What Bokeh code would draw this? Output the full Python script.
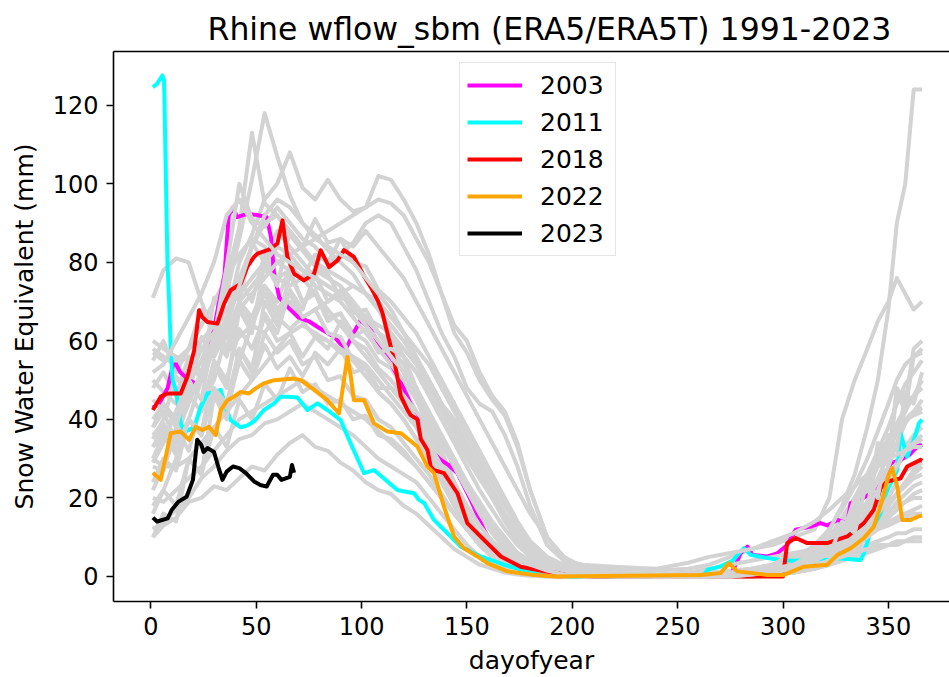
from bokeh.plotting import figure
from bokeh.models import Range1d, LinearAxis, Legend, LegendItem, FixedTicker
from bokeh.embed import file_html
from bokeh.resources import INLINE

# ---------------------------------------------------------------------------
# Snow water equivalent (mm) per day of year, Rhine basin, wflow_sbm (ERA5/ERA5T)
# ---------------------------------------------------------------------------

# Common sampling days for the background years
DOY_GRID = [1, 6, 12, 18, 24, 30, 36, 42, 48, 54, 60, 66, 72, 78, 84, 90, 96, 102,
            108, 114, 120, 126, 132, 138, 144, 150, 156, 162, 168, 174, 180, 188,
            196, 205, 220, 240, 255, 265, 275, 285, 295, 305, 315, 322, 328, 334,
            340, 345, 350, 354, 358, 362, 366]

swe_1991 = [38, 44, 40, 55, 50, 71, 64, 76, 70, 82, 76, 78, 70, 73, 66, 67, 62, 60, 55, 53, 48, 42, 36, 30, 24, 18, 13, 9, 6, 4, 2, 1, 0.5, 0, 0, 0, 0, 0, 0, 0, 1, 2, 4, 6, 9, 14, 19, 25, 31, 37, 42, 46, 50]
swe_1992 = [50, 47, 44, 49, 55, 63, 72, 86, 101, 118, 107, 97, 90, 87, 83, 80, 77, 72, 68, 62, 56, 48, 40, 32, 24, 16, 10, 6, 3, 2, 1, 0.5, 0.2, 0, 0, 0, 0, 0, 0, 0.5, 1, 2, 4, 6, 7, 9, 11, 13, 15, 17, 19, 21, 22]
swe_1993 = [22, 28, 36, 44, 52, 58, 66, 80, 87, 96, 100, 108, 99, 96, 101, 96, 93, 94, 102, 101, 96, 90, 82, 72, 62, 57, 50, 45, 41, 33, 22, 10, 5, 2.5, 2, 1.5, 2, 3, 5, 7, 8, 10, 12, 20, 40, 50, 58, 65, 70, 76, 72, 68, 70]
swe_1994 = [71, 78, 81, 80, 70, 62, 57, 61, 64, 62, 67, 70, 65, 61, 60, 57, 55, 51, 47, 44, 40, 35, 30, 24, 18, 12, 8, 5, 3, 2, 1, 0.5, 0.2, 0, 0, 0, 0, 0, 0.5, 1, 2, 4, 6, 9, 12, 15, 19, 22, 26, 28, 31, 33, 35]
swe_1995 = [35, 40, 51, 46, 61, 56, 76, 89, 113, 95, 92, 87, 83, 79, 77, 71, 70, 65, 62, 57, 52, 45, 38, 30, 22, 15, 10, 6, 4, 2, 1, 0.5, 0, 0, 0, 0, 0, 0, 0, 0, 1, 3, 6, 10, 15, 20, 26, 32, 38, 44, 49, 52, 55]
swe_1996 = [55, 60, 52, 58, 68, 62, 75, 70, 85, 80, 88, 84, 80, 76, 74, 72, 69, 66, 62, 58, 54, 48, 42, 36, 30, 24, 18, 13, 9, 6, 4, 2, 1, 0.5, 0, 0, 0, 0, 0, 1, 2, 3, 4, 5, 6, 7, 8, 9, 10, 11, 11, 12, 12]
swe_1997 = [12, 14, 17, 20, 25, 28, 32, 35, 36, 39, 40, 42, 44, 42, 40, 38, 36, 33, 30, 28, 26, 24, 20, 16, 12, 8, 5, 3, 2, 1, 0.5, 0, 0, 0, 0, 0, 0, 0, 0, 0, 0.5, 1, 2, 4, 6, 9, 12, 15, 18, 21, 24, 26, 28]
swe_1998 = [28, 27, 38, 32, 44, 50, 62, 55, 64, 72, 66, 63, 66, 68, 70, 72, 74, 72, 70, 66, 62, 58, 54, 48, 42, 36, 30, 24, 18, 13, 9, 5, 3, 1.5, 0.5, 0, 0, 0, 0, 0, 0.5, 1, 2, 3, 4, 5, 6, 7, 8, 8, 9, 9, 9]
swe_1999 = [10, 13, 15, 19, 20, 23, 22, 25, 28, 27, 31, 34, 36, 33, 32, 29, 27, 24, 22, 21, 18, 16, 13, 10, 7, 5, 3, 2, 1, 0.5, 0.2, 0, 0, 0, 0, 0, 0, 0, 0, 0, 1, 2, 4, 7, 11, 16, 22, 28, 34, 39, 43, 46, 48]
swe_2000 = [48, 52, 46, 56, 52, 63, 58, 70, 66, 74, 70, 79, 76, 82, 80, 86, 84, 88, 84, 80, 76, 70, 64, 58, 52, 46, 40, 34, 28, 22, 16, 10, 5, 2, 1, 0.5, 0.5, 1, 1.5, 2, 3, 5, 7, 9, 11, 13, 15, 16, 17, 18, 19, 20, 20]
swe_2001 = [20, 19, 22, 25, 28, 32, 36, 40, 42, 44, 46, 48, 50, 48, 46, 44, 42, 40, 37, 34, 31, 28, 24, 20, 16, 12, 9, 6, 4, 3, 2, 1, 0.5, 0, 0, 0, 0, 0, 0, 1, 2, 4, 8, 12, 17, 23, 30, 37, 44, 50, 54, 56, 58]
swe_2002 = [58, 56, 54, 58, 64, 70, 76, 82, 86, 84, 80, 78, 76, 72, 68, 64, 60, 56, 52, 48, 44, 38, 32, 26, 20, 14, 9, 6, 4, 2, 1, 0.5, 0, 0, 0, 0, 0, 0, 0, 0, 1, 3, 6, 10, 14, 20, 26, 31, 35, 38, 40, 42, 43]
swe_2004 = [33, 38, 34, 46, 42, 55, 50, 63, 58, 66, 60, 62, 56, 61, 58, 65, 60, 58, 53, 50, 46, 40, 34, 28, 22, 16, 11, 7, 4, 2, 1, 0.5, 0, 0, 0, 0, 0, 0, 0, 0, 0.5, 1, 3, 5, 8, 12, 17, 22, 28, 34, 39, 42, 45]
swe_2005 = [45, 42, 40, 45, 52, 61, 79, 100, 91, 89, 94, 90, 86, 84, 80, 82, 85, 90, 92, 90, 84, 78, 70, 62, 56, 48, 44, 42, 36, 28, 18, 8, 4, 2, 1, 0.5, 1, 2, 3, 4, 5, 6, 7, 8, 9, 10, 11, 12, 13, 14, 15, 16, 16]
swe_2006 = [16, 22, 18, 30, 26, 38, 33, 45, 40, 49, 45, 53, 47, 49, 44, 45, 40, 41, 36, 35, 32, 28, 24, 20, 16, 12, 9, 6, 4, 2, 1, 0.5, 0, 0, 0, 0, 0, 0, 0, 0, 1, 2, 4, 6, 9, 12, 16, 20, 25, 29, 33, 36, 38]
swe_2007 = [38, 42, 34, 40, 36, 47, 42, 55, 50, 62, 57, 60, 54, 56, 50, 51, 46, 45, 40, 38, 34, 30, 26, 21, 16, 12, 8, 5, 3, 2, 1, 0.5, 0, 0, 0, 0, 0, 0, 0, 0, 0.5, 1, 2, 3, 5, 8, 11, 14, 18, 21, 24, 27, 30]
swe_2008 = [30, 28, 28, 30, 34, 38, 42, 46, 50, 54, 58, 62, 64, 62, 60, 58, 56, 54, 50, 46, 42, 38, 33, 28, 23, 18, 13, 9, 6, 4, 2, 1, 0.5, 0, 0, 0, 0, 0, 0, 0, 0.5, 1, 2, 3, 5, 7, 10, 13, 16, 19, 21, 23, 24]
swe_2009 = [24, 30, 27, 40, 36, 54, 48, 68, 62, 80, 74, 88, 84, 91, 85, 86, 80, 79, 73, 70, 66, 62, 56, 50, 44, 38, 32, 26, 20, 14, 9, 5, 2, 1, 0.5, 0, 0, 0, 0, 0, 0.5, 1, 3, 8, 6, 18, 15, 32, 28, 47, 42, 56, 57]
swe_2010 = [57, 55, 55, 58, 60, 64, 68, 72, 76, 80, 84, 82, 78, 74, 72, 70, 66, 62, 58, 54, 50, 45, 40, 34, 28, 22, 16, 11, 7, 4, 2, 1, 0.5, 0, 0, 0, 0, 0, 0, 1, 2, 4, 8, 12, 18, 26, 38, 50, 68, 90, 100, 124, 124]
swe_2012 = [40, 44, 38, 50, 45, 62, 56, 70, 64, 74, 68, 72, 66, 68, 62, 61, 55, 53, 47, 44, 40, 35, 30, 25, 20, 15, 11, 8, 5, 3, 2, 1, 0.5, 0, 0, 0, 0, 0, 1, 2, 3, 6, 5, 12, 10, 20, 17, 34, 30, 48, 44, 58, 60]
swe_2013 = [60, 58, 56, 55, 58, 62, 64, 68, 72, 76, 80, 82, 84, 86, 88, 90, 92, 94, 96, 95, 92, 86, 80, 72, 64, 60, 52, 46, 42, 34, 22, 10, 4, 3, 2.5, 2, 3.5, 5, 6, 7, 9, 11, 14, 17, 20, 23, 26, 28, 30, 31, 32, 33, 33]
swe_2014 = [33, 36, 31, 40, 36, 47, 43, 55, 50, 59, 53, 56, 51, 57, 54, 58, 52, 53, 48, 48, 46, 42, 38, 34, 29, 24, 19, 14, 10, 6, 4, 2, 1, 0.5, 0, 0, 0, 0, 0, 0, 0.5, 1, 2, 4, 6, 8, 10, 12, 14, 15, 16, 17, 18]
swe_2015 = [18, 22, 30, 40, 50, 58, 66, 76, 84, 90, 92, 88, 84, 80, 78, 76, 74, 72, 68, 64, 60, 55, 50, 44, 38, 32, 26, 20, 15, 10, 6, 3, 1.5, 0.5, 0, 0, 0, 0, 0, 0.5, 1, 2, 4, 6, 8, 11, 15, 19, 24, 28, 32, 34, 36]
swe_2016 = [36, 39, 32, 40, 37, 48, 44, 58, 53, 67, 62, 73, 68, 77, 70, 73, 67, 68, 62, 60, 56, 52, 46, 40, 34, 28, 22, 17, 12, 8, 5, 3, 1.5, 0.5, 0, 0, 0, 0, 0, 0, 0.5, 1, 2, 4, 6, 9, 12, 16, 20, 24, 27, 28, 29]
swe_2017 = [29, 34, 42, 50, 58, 56, 62, 70, 74, 78, 76, 74, 76, 78, 76, 74, 70, 66, 64, 62, 58, 54, 48, 42, 36, 30, 25, 20, 16, 12, 8, 4, 2, 1, 0.5, 0, 0, 0, 0, 0.5, 1, 2, 5, 8, 12, 18, 24, 30, 35, 38, 40, 41, 42]
swe_2019 = [30, 36, 42, 46, 50, 58, 64, 74, 84, 92, 96, 94, 90, 86, 84, 82, 80, 76, 72, 68, 62, 56, 50, 44, 38, 32, 26, 20, 14, 9, 6, 3, 1.5, 0.5, 0, 0, 0, 0, 0.5, 1, 2, 3, 6, 5, 14, 11, 25, 20, 36, 32, 47, 44, 52]
swe_2020 = [52, 54, 60, 66, 72, 80, 92, 96, 90, 86, 82, 80, 78, 76, 74, 72, 68, 64, 60, 56, 52, 46, 40, 34, 28, 22, 17, 12, 8, 5, 3, 1.5, 0.5, 0, 0, 0, 0, 0, 0, 0.5, 1, 2, 3, 4, 5, 6, 7, 8, 8, 9, 9, 10, 10]
swe_2021 = [10, 16, 14, 30, 26, 46, 40, 58, 52, 70, 64, 77, 70, 72, 65, 67, 61, 63, 57, 58, 56, 52, 48, 44, 40, 34, 28, 22, 16, 11, 7, 4, 2, 1, 0.5, 0, 0, 0, 0, 0.5, 1, 2, 4, 6, 8, 10, 13, 16, 19, 21, 23, 25, 26]

# Highlighted years (own day sampling)
doy_2003 = [1, 4, 8, 11, 14, 18, 22, 26, 28, 31, 35, 37, 39, 41, 46, 51, 55, 57, 58.5, 61, 65, 70, 75, 79, 87, 92.5, 95.7, 99.6, 104.4, 109.1, 113.9, 118.6, 123.3, 126.5, 129.7, 133, 137.6, 141, 145.5, 151.8, 158.1, 164.5, 170.8, 178, 186, 195, 275, 279.9, 283.1, 285.5, 292.6, 297.3, 302, 306, 313.1, 317.8, 321, 325.8, 330.5, 332.1, 338, 344.7, 351, 355.8, 360, 363.7, 366]
swe_2003 = [43, 44, 48, 55, 52, 50, 49, 52, 57, 66, 77, 92, 94, 91.5, 92.4, 92, 91.5, 86.5, 77, 71, 68.6, 66, 65, 63.6, 61, 57.8, 61.5, 65.3, 62.7, 58.5, 54.3, 49.5, 44, 40, 34, 32, 29.7, 28.5, 26.3, 19.5, 11.9, 5.9, 3.4, 1.5, 0.5, 0, 0, 5.9, 7.6, 5.5, 5.1, 5.9, 8, 11.9, 12.7, 13.6, 13, 14.4, 13.6, 18.7, 20, 22, 28.8, 29.7, 31, 33.1, 33.5]

doy_2011 = [1, 3, 5.5, 6.3, 7.9, 8.7, 9.5, 10.3, 11.9, 14.2, 16, 18.2, 20.6, 23.7, 26.9, 30, 33.2, 35.6, 37.9, 42.7, 46, 49, 53.7, 58.5, 61.7, 65, 69.6, 74.3, 79.1, 83.8, 90.1, 94.1, 101.2, 105.9, 112.3, 117, 121, 124.9, 127.3, 129.7, 134.4, 139.1, 147.1, 156.5, 167.6, 178.7, 190, 200, 262, 264.1, 270, 276, 281.5, 284.6, 292.6, 298.9, 305, 313.1, 324.1, 336.8, 338.4, 341.5, 346.3, 349.5, 354.2, 355.8, 358.9, 362.1, 364.5, 366]
swe_2011 = [124.6, 125.5, 127.6, 126.3, 80, 70, 57.6, 50, 47.5, 39, 37, 37.3, 38.1, 43.2, 46.6, 47, 47.5, 43.2, 39.8, 38, 38.5, 39.5, 42.4, 44.1, 45.8, 45.8, 45.6, 42.4, 44.1, 42.4, 39.8, 34.8, 26.3, 27.1, 24.2, 22, 21.6, 21.2, 19.5, 18.7, 14.4, 11.9, 7.6, 5.1, 3, 1.3, 0.3, 0, 0, 1.7, 2.5, 4, 7.2, 5.5, 4.7, 4.2, 4, 4.2, 4.7, 4.2, 5.9, 11.4, 16.1, 22, 27.1, 36.5, 30.5, 34.8, 39, 40]

doy_2018 = [1, 4.7, 7.9, 11.1, 14.2, 17.4, 20.6, 22.9, 24.5, 26.9, 31.6, 34.8, 37.9, 42.7, 45.9, 49, 50.6, 55.4, 56.9, 60.1, 62.5, 64.8, 68, 72.7, 77.5, 80.6, 84.6, 88.6, 91.7, 96.4, 101.2, 104.4, 107.6, 110, 112.3, 115.5, 118.6, 121.8, 123.3, 126.5, 128.1, 131.3, 132.8, 134.4, 139.1, 145.5, 150.2, 158.1, 166.1, 175.5, 186.6, 200.8, 210, 300, 302, 306, 311.5, 321, 330.5, 338.4, 343.1, 346.3, 349.5, 355.8, 358.9, 365.3, 366]
swe_2018 = [42.4, 45.8, 46.6, 46.6, 46.6, 50.9, 57.6, 67.8, 66, 64.8, 64.4, 69.5, 72.9, 74.6, 79, 81.4, 82.2, 83.1, 83.5, 84.8, 90.7, 81.4, 77.1, 75.4, 77.1, 83.1, 78.8, 80.5, 83.1, 81.4, 76.5, 73.7, 70.4, 67, 61.9, 55.1, 46, 42.4, 41.1, 40, 35, 32.2, 28, 27.1, 26.3, 21.2, 13.6, 9.3, 5.1, 2.5, 1.3, 0.4, 0, 0, 8.5, 9.8, 8.5, 8.5, 10.2, 13.6, 17, 22.5, 24.2, 25, 28, 29.7, 29.5]

doy_2022 = [1, 4.7, 9.5, 14.2, 18.2, 21.3, 24.5, 27.7, 30.8, 33.2, 36.4, 39.5, 42.7, 46.6, 49.8, 53.7, 58.5, 68, 71.2, 77.5, 83.8, 89.3, 93.3, 94.9, 96.4, 101.2, 105.9, 112.3, 118.6, 126.5, 131.3, 134.4, 139.1, 143.9, 148.6, 155, 159.7, 169.2, 181.8, 192, 261, 270.4, 274.3, 278.3, 292.6, 300.4, 309.9, 321, 325.8, 332.1, 338.4, 343.1, 347.1, 350.2, 351.8, 354.2, 356.6, 360.5, 364.3, 366]
swe_2022 = [26.4, 24.6, 36.5, 36.9, 34.8, 38.1, 37.3, 38.1, 36, 42.4, 44.9, 45.8, 47, 46.6, 47.9, 49.2, 50, 50.4, 50, 47.5, 44.9, 41.5, 55.9, 50.9, 44.9, 44.9, 39, 36.9, 36.5, 33.1, 28, 26.3, 17.8, 10.2, 7.2, 5.1, 3.4, 1.3, 0.4, 0, 0.4, 0.9, 3.4, 1.3, 0.4, 0.4, 2.5, 3, 5.5, 7.2, 9.8, 12.7, 19.5, 25.9, 27.6, 22.9, 14.4, 14.4, 15.3, 15.5]

doy_2023 = [1, 3, 8, 10, 13, 17, 20, 22, 24, 25, 27, 30, 32, 34, 36, 39, 42, 45, 49, 52, 55, 58, 60, 62, 66, 67, 68]
swe_2023 = [15, 14, 14.8, 17, 19, 20.3, 24.6, 34.8, 33.5, 31.7, 32.7, 31.7, 28, 24.6, 26.7, 28, 27.6, 26.4, 24.2, 23.3, 22.9, 25.9, 25.9, 24.6, 25.4, 28.4, 26.4]

HIGHLIGHT = {
    2003: (doy_2003, swe_2003, "magenta"),
    2011: (doy_2011, swe_2011, "cyan"),
    2018: (doy_2018, swe_2018, "red"),
    2022: (doy_2022, swe_2022, "orange"),
    2023: (doy_2023, swe_2023, "black"),
}
BACKGROUND = {
    1991: swe_1991, 1992: swe_1992, 1993: swe_1993, 1994: swe_1994, 1995: swe_1995,
    1996: swe_1996, 1997: swe_1997, 1998: swe_1998, 1999: swe_1999, 2000: swe_2000,
    2001: swe_2001, 2002: swe_2002, 2004: swe_2004, 2005: swe_2005, 2006: swe_2006,
    2007: swe_2007, 2008: swe_2008, 2009: swe_2009, 2010: swe_2010, 2012: swe_2012,
    2013: swe_2013, 2014: swe_2014, 2015: swe_2015, 2016: swe_2016, 2017: swe_2017,
    2019: swe_2019, 2020: swe_2020, 2021: swe_2021,
}

X_TICKS = [0, 50, 100, 150, 200, 250, 300, 350]
Y_TICKS = [0, 20, 40, 60, 80, 100, 120]

FONT = "DejaVu Sans"

p = figure(
    width=949, height=677,
    x_range=Range1d(-17.7, 379.0), y_range=Range1d(-6.37, 133.7),
    output_backend="svg", toolbar_location=None,
    title="Rhine wflow_sbm (ERA5/ERA5T) 1991-2023",
    min_border_left=113, min_border_right=0, min_border_top=51, min_border_bottom=75,
)
p.outline_line_color = None
p.background_fill_color = "white"
p.border_fill_color = "white"
p.xgrid.grid_line_color = None
p.ygrid.grid_line_color = None

p.title.text_font = FONT
p.title.text_font_size = "31.5px"
p.title.text_font_style = "normal"
p.title.align = "left"
p.title.offset = 94
p.title.text_color = "black"

for ax, ticks, label in ((p.xaxis[0], X_TICKS, "dayofyear"),
                         (p.yaxis[0], Y_TICKS, "Snow Water Equivalent (mm)")):
    ax.ticker = FixedTicker(ticks=ticks)
    ax.axis_label = label
    ax.axis_label_text_font = FONT
    ax.axis_label_text_font_size = "25px"
    ax.axis_label_text_font_style = "normal"
    ax.axis_label_text_color = "black"
    ax.major_label_text_font = FONT
    ax.major_label_text_font_size = "24px"
    ax.major_label_text_color = "black"
    ax.axis_line_width = 1.6
    ax.axis_line_color = "black"
    ax.major_tick_line_width = 1.6
    ax.major_tick_out = 7
    ax.major_tick_in = 0
    ax.minor_tick_line_color = None
    ax.major_label_standoff = 8
    ax.axis_label_standoff = 8
p.yaxis[0].axis_label_standoff = 11

# top spine
top = LinearAxis(ticker=FixedTicker(ticks=[]), major_tick_line_color=None,
                 minor_tick_line_color=None, major_label_text_font_size="0px",
                 axis_line_width=1.6, major_label_standoff=0,
                 major_tick_out=0, major_tick_in=0)
p.add_layout(top, "above")

legend_items = []
for year in range(1991, 2024):
    if year in HIGHLIGHT:
        doy, swe, color = HIGHLIGHT[year]
        r = p.line(doy, swe, line_color=color, line_width=4, line_join="round")
        legend_items.append(LegendItem(label=str(year), renderers=[r]))
    elif year in BACKGROUND:
        p.line(DOY_GRID, BACKGROUND[year], line_color="#d3d3d3", line_width=4,
               line_join="round")

legend = Legend(items=legend_items, location=(346, 345))
legend.label_text_font = FONT
legend.label_text_font_size = "25px"
legend.label_text_color = "black"
legend.glyph_width = 55
legend.glyph_height = 30
legend.label_height = 30
legend.label_width = 68
legend.label_standoff = 18
legend.spacing = 7
legend.padding = 7
legend.margin = 0
legend.border_line_color = "#cccccc"
legend.border_line_width = 1.5
legend.background_fill_alpha = 0.85
p.add_layout(legend)

open("out.html", "w").write(file_html(p, INLINE))
